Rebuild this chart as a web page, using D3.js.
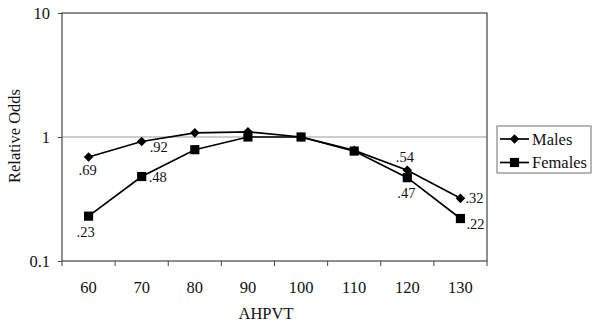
<!DOCTYPE html>
<html>
<head>
<meta charset="utf-8">
<script src="https://cdn.jsdelivr.net/npm/d3@7"></script>
<style>
  body { margin: 0; background: #fff; }
</style>
</head>
<body>
<svg id="chart" width="596" height="324" font-family="Liberation Serif"></svg>
<script>
// AHPVT score groups
const categories = [60, 70, 80, 90, 100, 110, 120, 130];
// Relative odds by group
const males   = [0.69, 0.92, 1.08, 1.10, 1.00, 0.78, 0.54, 0.32];
const females = [0.23, 0.48, 0.79, 1.00, 1.00, 0.77, 0.47, 0.22];
// Printed value labels: [index, text, dx, dy]
const maleLabels   = [[0, ".69", -1, 13], [1, ".92", 17, 6], [6, ".54", -2.5, -13.5], [7, ".32", 14, 0]];
const femaleLabels = [[0, ".23", -3, 16], [1, ".48", 16, 0.5], [6, ".47", -1, 15], [7, ".22", 15, 5]];
const yTicks = [0.1, 1, 10];
const yTickLabels = ["0.1", "1", "10"];

const FONT = "Liberation Serif";
const svg = d3.select("#chart");
const margin = { left: 62, right: 109, top: 13, bottom: 63 };
const W = 596, H = 324;

const x = d3.scaleBand().domain(categories).range([margin.left, W - margin.right]);
const y = d3.scaleLog().domain([0.1, 10]).range([H - margin.bottom, margin.top]);
const cx = d => x(d) + x.bandwidth() / 2;

function txt(sel, size) {
  return sel.attr("font-family", FONT).style("font-family", FONT)
    .attr("font-size", size).attr("fill", "#111");
}

// gridline at 1
svg.append("line")
  .attr("x1", margin.left).attr("x2", W - margin.right)
  .attr("y1", y(1)).attr("y2", y(1))
  .attr("stroke", "#999").attr("stroke-width", 1);

// plot frame
svg.append("rect")
  .attr("x", margin.left).attr("y", margin.top)
  .attr("width", W - margin.right - margin.left)
  .attr("height", H - margin.bottom - margin.top)
  .attr("fill", "none").attr("stroke", "#444").attr("stroke-width", 1.2);

// y axis
const yAxis = d3.axisLeft(y).tickValues(yTicks)
  .tickFormat((d, i) => yTickLabels[i]).tickSize(4).tickPadding(8);
const gy = svg.append("g").attr("transform", `translate(${margin.left},0)`).call(yAxis);
gy.attr("font-family", FONT);
gy.select(".domain").remove();
gy.selectAll("line").attr("stroke", "#444");
txt(gy.selectAll("text"), 16.5);

// x axis: ticks at band boundaries, labels centered
const boundaries = categories.map(c => x(c)).concat([x(categories[categories.length - 1]) + x.bandwidth()]);
const gx = svg.append("g");
gx.selectAll("line").data(boundaries).join("line")
  .attr("x1", d => d).attr("x2", d => d)
  .attr("y1", H - margin.bottom).attr("y2", H - margin.bottom + 5)
  .attr("stroke", "#444");
txt(gx.selectAll("text").data(categories).join("text"), 16.5)
  .attr("x", d => cx(d)).attr("y", 293)
  .attr("text-anchor", "middle")
  .text(d => d);

// axis titles
txt(svg.append("text"), 16.5)
  .attr("transform", `translate(14,${y(1) - 1}) rotate(-90)`)
  .attr("text-anchor", "middle").attr("dominant-baseline", "central")
  .text("Relative Odds");
txt(svg.append("text"), 16.5)
  .attr("x", 266).attr("y", 319)
  .attr("text-anchor", "middle")
  .text("AHPVT");

const line = d3.line().x((d, i) => cx(categories[i])).y(d => y(d));
const diamond = d3.symbol().type(d3.symbolSquare).size(46);
const square = d3.symbol().type(d3.symbolSquare).size(84);

function drawSeries(values, sym, rot, labels) {
  svg.append("path").datum(values)
    .attr("d", line).attr("fill", "none")
    .attr("stroke", "#000").attr("stroke-width", 1.7);
  svg.append("g").selectAll("path").data(values).join("path")
    .attr("transform", (d, i) => `translate(${cx(categories[i])},${y(d)}) rotate(${rot})`)
    .attr("d", sym)
    .attr("fill", "#000");
  txt(svg.append("g").selectAll("text").data(labels).join("text"), 14.5)
    .attr("x", l => cx(categories[l[0]]) + l[2])
    .attr("y", l => y(values[l[0]]) + l[3])
    .attr("text-anchor", "middle").attr("dominant-baseline", "central")
    .text(l => l[1]);
}

drawSeries(males, diamond, 45, maleLabels);
drawSeries(females, square, 0, femaleLabels);

// legend
const lg = svg.append("g").attr("transform", "translate(497,126)");
lg.append("rect").attr("width", 94).attr("height", 47)
  .attr("fill", "#fff").attr("stroke", "#888").attr("stroke-width", 1.2);
const legendItems = [["Males", diamond, 45], ["Females", square, 0]];
legendItems.forEach((it, i) => {
  const yy = 13 + i * 23.5;
  lg.append("line").attr("x1", 3).attr("x2", 32).attr("y1", yy).attr("y2", yy)
    .attr("stroke", "#000").attr("stroke-width", 1.7);
  lg.append("path").attr("transform", `translate(17.5,${yy}) rotate(${it[2]})`)
    .attr("d", it[1]).attr("fill", "#000");
  txt(lg.append("text"), 16.5).attr("x", 35).attr("y", yy)
    .attr("dominant-baseline", "central")
    .text(it[0]);
});
</script>
</body>
</html>
